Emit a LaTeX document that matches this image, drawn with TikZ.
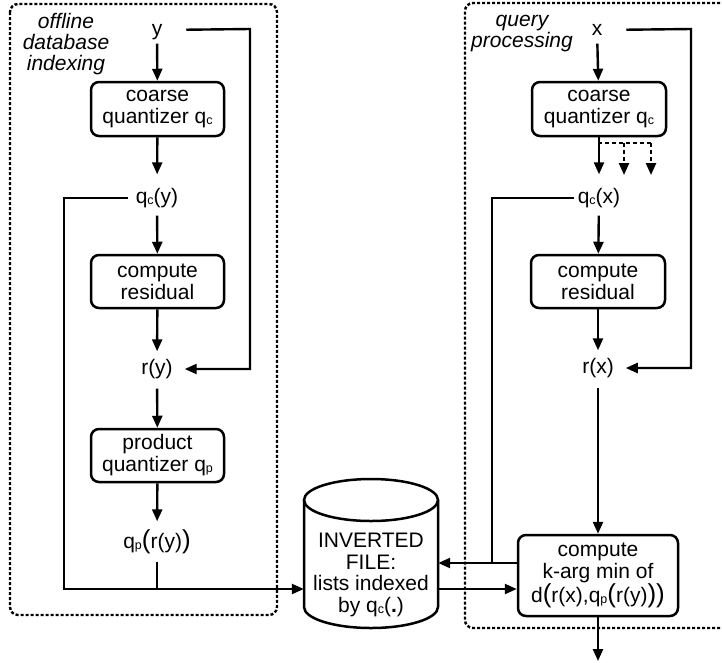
\documentclass[tikz,border=0pt]{standalone}
\usepackage{fontspec}
\setmainfont{Liberation Sans}
\usetikzlibrary{arrows.meta,calc}
\newcommand{\sbs}[1]{\raisebox{-0.8pt}{\fontsize{12.5}{12.5}\selectfont #1}}
\newcommand{\bpl}{{\fontsize{26}{26}\selectfont(}}
\newcommand{\bpr}{{\fontsize{26}{26}\selectfont)}}
\begin{document}
\begin{tikzpicture}[x=1pt,y=-1pt,
  every node/.style={font=\fontsize{21}{22}\selectfont},
  lbl/.style={inner sep=0pt, outer sep=0pt, text height=15pt, text depth=4.4pt},
  procbox/.style={draw, line width=2.5pt, rounded corners=8pt, align=center, inner sep=0pt},
  arr/.style={line width=2.4pt, -{Triangle[length=12pt,width=10pt]}},
  ln/.style={line width=2.4pt},
  frame/.style={line width=2.4pt, dash pattern=on 3pt off 2pt, rounded corners=8pt}]
\useasboundingbox (0,0) rectangle (722,662);
% frames
\draw[frame] (10,4) rectangle (277,615);
\draw[frame] (745,3) -- (465,3) -- (465,628) -- (745,628);
% frame titles
\node[align=center, font=\fontsize{21}{21}\selectfont\itshape] (t1) at (66,44) {offline\\database\\indexing};
\node[align=center, font=\fontsize{21}{21}\selectfont\itshape] (t2) at (522,34) {query\\processing};
% left column
\node[lbl] (y) at (157,30) {y};
\node[procbox, minimum width=133pt, minimum height=54pt] (cq) at (157.5,109) {coarse\\quantizer q\sbs{c}};
\node[lbl] (qcy) at (157,198) {q\sbs{c}(y)};
\node[procbox, minimum width=133pt, minimum height=53pt] (res) at (157.5,281.5) {compute\\residual};
\node[lbl] (ry) at (157,369) {r(y)};
\node[procbox, minimum width=133pt, minimum height=53pt] (pq) at (157.5,455.5) {product\\quantizer q\sbs{p}};
\node[lbl] (qpry) at (157,543) {q\sbs{p}\bpl r(y)\bpr};
% inverted file
\draw[line width=2.5pt] (304,500) -- (304,607) arc[start angle=180, end angle=0, x radius=67, y radius=21] -- (438,500);
\draw[line width=2.5pt] (371,500) ellipse [x radius=67, y radius=21];
\node[align=center, inner sep=0pt, minimum width=134pt, minimum height=149pt, font=\fontsize{21}{21.7}\selectfont] (inv) at (371,575) {INVERTED\\FILE:\\lists indexed\\by q\sbs{c}(\textbf{.})};
% right column
\node[lbl] (x) at (597,30) {x};
\node[procbox, minimum width=134pt, minimum height=54pt] (rcq) at (599,109) {coarse\\quantizer q\sbs{c}};
\node[lbl] (qcx) at (599,198) {q\sbs{c}(x)};
\node[procbox, minimum width=134pt, minimum height=53pt] (rres) at (598,281.5) {compute\\residual};
\node[lbl] (rx) at (598,368) {r(x)};
\node[procbox, minimum width=160pt, minimum height=81pt, font=\fontsize{21}{21.5}\selectfont] (cmp) at (598,575.5) {compute\\k-arg min of\\d\bpl r(x),q\sbs{p}\bpl r(y)\bpr\bpr};
% coordinates
\coordinate (yc) at (250,29);
\coordinate (lb) at (64,589);
\coordinate (xc) at (691,29);
\coordinate (ra) at (492,563);
\coordinate (rb) at (0,589);
\coordinate (d0) at (598,143);
\coordinate (d1) at (624,143);
\coordinate (d2) at (651,143);
\coordinate (e1) at (624,175);
\coordinate (e2) at (651,175);
\coordinate (out) at (598,661);
% left connectors
\draw[arr, shorten <=4pt] (y) -- (cq);
\draw[arr, shorten >=14pt] (cq) -- (qcy);
\draw[arr, shorten <=8pt] (qcy) -- (res);
\draw[arr, shorten >=8pt] (res) -- (ry);
\draw[arr, shorten <=10pt] (ry) -- (pq);
\draw[arr, shorten >=12pt] (pq) -- (qpry);
\draw[arr, shorten <=24pt, shorten >=12pt] (y.east) -- (yc) |- (ry.east);
\draw[arr, shorten <=8pt] (qcy.west) -| (lb) -- (lb -| inv.west);
\draw[ln, shorten <=9pt] (qpry.south) -- (qpry |- lb);
% right connectors
\draw[arr, shorten <=4pt] (x) -- (rcq);
\draw[arr, shorten >=14pt] (rcq) -- (qcx);
\draw[ln, dash pattern=on 4pt off 3pt] (d0) -- (d2);
\draw[arr, dash pattern=on 4pt off 3pt] (d1) -- (e1);
\draw[arr, dash pattern=on 4pt off 3pt] (d2) -- (e2);
\draw[arr, shorten <=8pt] (qcx) -- (rres);
\draw[arr, shorten >=8pt] (rres) -- (rx);
\draw[arr, shorten <=24pt, shorten >=12pt] (x.east) -- (xc) |- (rx.east);
\draw[ln, shorten <=4pt] (qcx.west) -| (ra);
\draw[arr] (cmp.west |- ra) -- (inv.east |- ra);
\draw[arr] (inv.east |- rb) -- (cmp.west |- rb);
\draw[arr, shorten <=10pt] (rx) -- (cmp);
\draw[arr] (cmp) -- (out);
\end{tikzpicture}
\end{document}
